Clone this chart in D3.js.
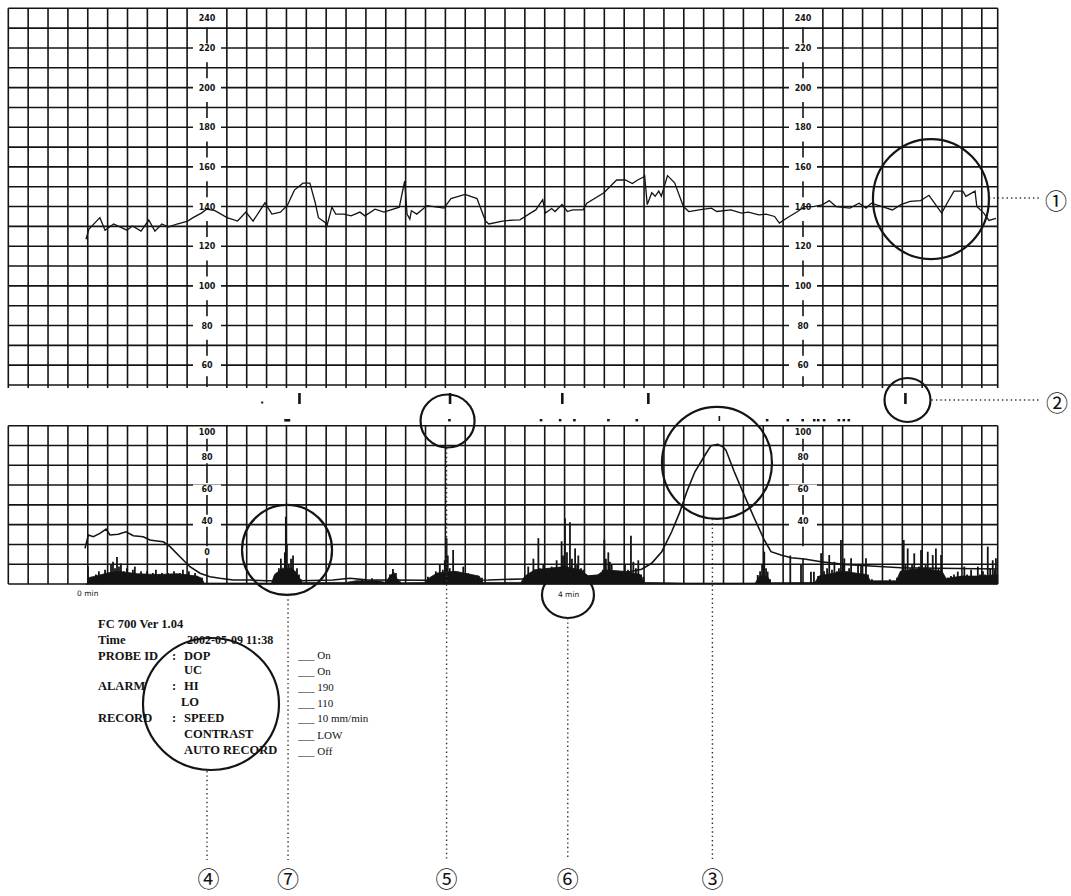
<!DOCTYPE html>
<html lang="en">
<head>
<meta charset="utf-8">
<title>CTG trace</title>
<script src="https://d3js.org/d3.v7.min.js"></script>
<style>
  body { margin: 0; background: #fff; }
  svg { display: block; }
</style>
</head>
<body>
<script>
// time in seconds from the "0 min" mark; FHR in bpm, UA in units
const fhr = [[-0.9,123.5],[0.6,128.6],[6.1,134.4],[8.7,128.1],[13,131.2],[19.7,128.1],[22.5,130.2],[26.8,127.6],
  [30.7,133.2],[33.8,127.6],[37.3,131.2],[40.7,129.7],[44.9,131.2],[50.3,132.7],[53,134.4],[57.2,136.7],[59.8,138.7],
  [64,137.9],[70.1,134.4],[75.4,132.7],[79.6,137.2],[83.2,132.7],[89.2,141.9],[92.7,136.2],[97,137.2],[100.5,140.7],
  [104,148.3],[108.3,151.8],[111.8,151.8],[114.4,142.3],[116.1,134.4],[119.6,131.9],[120.1,129.3],[122.9,139.7],
  [124.8,136.2],[129,136.2],[132.5,135.3],[137,137.2],[139.5,135.3],[144.6,138.7],[149.1,137.2],[156.8,139.7],
  [159.5,152.8],[160.7,136.2],[162.1,133.7],[162.9,137.9],[165.6,136.2],[170.7,140.5],[179.3,139.2],[182.8,144],
  [189.9,146.1],[195.9,144],[200.2,132.7],[201.9,131.2],[208.8,132.7],[214,133.2],[217.5,133.3],[222.8,136.7],
  [225.5,138.3],[229,143.5],[230.3,136.7],[233.5,139],[235.2,137.5],[238.7,141],[241.4,137.5],[244.1,138.3],
  [249.3,138.3],[251.2,141.7],[259.8,147],[266.2,153.4],[270.6,153.4],[274.1,151.6],[276.8,153.4],[279.5,154.8],
  [280.3,155.6],[281.6,141],[283.9,147],[285.6,145.2],[287.4,147.8],[288.7,145.2],[291.8,155.6],[295.4,152],
  [299.8,140],[302.5,137.5],[307.7,138.3],[313.9,139.2],[316.6,137.5],[323.7,138.3],[329,136.7],[332.5,137.2],
  [337.8,135.8],[341.4,136.2],[345.7,135],[348.1,131.7],[351.9,134.2],[357.3,137.5],[360.8,140],[365.2,140],
  [369.6,140.8],[373.2,143],[376.6,140],[383.6,139.2],[388.2,141.7],[391.7,139.2],[394.4,141.7],[399.8,140],
  [405,138.3],[409.3,141],[413.9,142.6],[419.2,143],[423.4,145.7],[426.2,141.7],[429.8,136.7],[432.5,141.7],
  [436,147.8],[440.4,147.8],[442,145.2],[446.6,147.8],[447.5,140],[451,136.7],[453.6,133],[457.1,134]];

const ua = [[-1.4,22.5],[0.3,31],[2.8,29.9],[6.1,32],[9.2,34.7],[11.2,31],[15.4,31.4],[19.2,33],[22.9,30.5],
  [27.9,29.9],[31.3,27.8],[34.7,27.2],[38,26.7],[41.4,23.6],[46.4,17.2],[51.4,10.9],[56.5,6.8],[61.5,4.6],
  [66.5,3.6],[73.2,2.5],[81.6,2.5],[90,2.1],[106.8,2.1],[123.4,2.5],[132,3.6],[140,2.6],[170,2.4],[201.5,2.5],
  [218.4,3.2],[235.2,4],[251.9,5],[268.7,6.8],[278.8,9.3],[283.8,13.1],[288.9,20.4],[293.9,33],[298.1,45.7],
  [301.5,58.3],[305.6,70.9],[310.7,81.5],[313.7,87.4],[317.1,88.3],[319.6,86.7],[321.2,84.6],[325.4,70.9],
  [330.4,56.2],[335.5,41.5],[340.5,27.8],[343.9,20.4],[348.9,18.3],[354,16.6],[360.7,15.8],[369.1,14.1],
  [380.8,12.4],[394.2,11.4],[409.3,10.3],[457.6,9.5]];

// dense low part of the movement signal
const moveFill = [[-1,0],[0,0],[0.4,4],[4,5],[10,7],[15,8],[25,6.5],[35,6],[45,6.5],[55,5],[57.5,3.5],[58.5,0.6],
  [92.5,0.6],[94,6],[98,10],[103,10],[106,5],[108,1],[130,1],[135,2],[146,2],[150,1],[152,5],[154,7.5],[156,2.5],
  [158,0.8],[170,1],[172,4],[176,7],[185,8],[191,6.5],[197,5],[199,1],[218,1],[220,5],[225,9],[240,11],[248,9],[252,5],
  [256,5],[260,9],[270,8],[278,6],[280,1],[300,0.6],[336,0.6],[338,5],[342,5],[344,0.8],[366,1],[368,5],[380,8],
  [392,6],[394,2],[407,2],[409,8],[420,10],[430,8],[432,3.5],[440,5],[450,5],[458,6]];

// movement signal spikes
const moveSpikes = [[0.1,11],[2.1,4],[4.1,6],[5.6,8],[7.1,5],[8.7,9],[10.2,6],[11.7,12],[12.7,14],[13.7,10],
  [14.7,17],[15.7,11],[16.7,13],[18.2,8],[19.7,10],[21.2,7],[22.7,9],[23.7,11],[25.3,6],[26.8,8],[28.3,6],[29.8,8],
  [31.3,5],[32.8,7],[34.3,9],[35.8,6],[37.3,7],[38.8,5],[40.4,7],[41.9,6],[43.4,8],[44.9,5],[46.4,7],[47.9,9],
  [49.4,6],[50.9,8],[52.5,5],[54,7],[55.5,4],[57.5,4],
  [93.7,4],[95.2,7],[96.2,10],[97.2,16],[98.2,9],[99.2,20],[99.7,42.5],[100.2,25],[101.2,12],[102.3,16],[103.3,18],
  [104.3,8],[105.3,10],[106.3,6],[107.3,3],
  [136,2],[138,3],[143.1,3.6],[145,2],[151.1,3],[152.1,6],[153.6,9.5],[155.1,7],[156.2,3],
  [171.2,4.6],[173.2,3],[175.2,8],[177.2,12],[178.7,9],[179.7,15],[180.6,29],[181.2,18],[182.2,10],[183.9,21.5],
  [184.8,8],[186.5,7.8],[187.8,6],[189,11],[190.4,7],[191.5,6.8],[192.9,5],[194.4,5],[196.4,5],[198.4,4],
  [220.1,3],[221.7,11],[223.1,7],[224.3,16],[225.1,9],[226.8,29],[227.6,10],[229.3,12],[230.6,8],[231.6,10],
  [233.5,11],[234.7,9],[236,15],[237.2,10],[238.5,27],[239.2,18],[240.2,41.5],[241.2,20],[242.7,39],[243.7,16],
  [245.3,22.5],[246.3,12],[246.9,18],[248.3,10],[249.4,9],[250.8,6],[252.8,4],
  [255.8,4],[257.8,5],[259.3,9],[260,28],[260.8,16],[262,20],[262.8,14],[263.7,12],[264.9,7],[267,8],[268.4,6],
  [270.4,12],[271.9,9],[273.4,30.5],[274.6,14],[275.9,10],[277.1,15],[278.5,6],[279.6,4.6],
  [337.2,5.7],[338.4,8],[339.4,12],[340.5,20.4],[341.4,10],[342.2,7.8],[343.4,3],
  [353.6,18],[359,12],[364,7.8],[365.5,7.8],
  [367.6,5],[369.1,19.4],[370.6,8],[372.1,10],[373.2,18.3],[374.6,9],[375.8,14],[377.1,8],[378.1,10],[379.1,27.8],
  [380.2,12],[380.8,16.2],[382.2,8],[383.2,10],[384.2,16.2],[385.7,7],[387.7,12],[389.2,12],[390.2,6],[391.7,16.2],
  [392.7,6],[394.7,3],[398.7,2],[403.7,3],[407.3,4],
  [409.3,8],[410.7,27.8],[411.6,12],[412.7,22.5],[413.9,10],[414.9,12],[416,19.4],[417.4,9],[418.4,11],[419.4,21.5],
  [420.9,10],[421.7,12],[422.8,20.4],[423.9,10],[425.3,18.3],[425.9,9],[426.9,22.5],[428.2,10],[429.5,18.3],
  [431,5],[433,4],[434.5,5],[436,6],[437.9,7.8],[439.5,5],[441.2,11],[442.6,6],[444.6,9],[446.1,5],[448,11],
  [449.1,6],[450.6,8],[451.6,6],[453,23.6],[454.2,10],[455.5,15],[456.4,9],[457.1,16.2]];

// event marks and printer dots between the two grids
const eventMarks = [106.5, 182.3, 238.8, 282.1, 411.5];
const rowDots = [182, 228.1, 237.7, 244.9, 262, 276.3, 341.9, 352.3, 359.8, 365.6, 367.6, 370.6, 378, 380.5, 383];

const hrTicks = [60, 80, 100, 120, 140, 160, 180, 200, 220, 240];
const uaTicks = [20, 40, 60, 80, 100];
const uaTickLabels = ["0", "40", "60", "80", "100"];
const axisTimes = [60, 360];

const W = 1071, H = 896;
const svg = d3.select("body").append("svg").attr("width", W).attr("height", H);
svg.append("rect").attr("width", W).attr("height", H).attr("fill", "#fff");

const x = d3.scaleLinear().domain([-40, 458]).range([8.3, 997.7]);
const yHr = d3.scaleLinear().domain([50, 240]).range([385, 8.3]);
const yUa = d3.scaleLinear().domain([0, 100]).range([584, 425.7]);

const gridTimes = d3.range(-40, 451, 10).filter(t => !axisTimes.includes(t));
const ink = "#141414";

function grid(hValues, yScale, ext) {
  const g = svg.append("g").attr("stroke", ink).attr("stroke-width", 1.6);
  const [y0, y1] = yScale.range();
  g.selectAll(".v").data(gridTimes.concat([458])).join("line")
    .attr("x1", d => x(d)).attr("x2", d => x(d))
    .attr("y1", y1).attr("y2", y0 + ext);
  g.selectAll(".h").data(hValues).join("line")
    .attr("x1", x(-40)).attr("x2", x(458))
    .attr("y1", d => yScale(d)).attr("y2", d => yScale(d));
}
grid(d3.range(50, 241, 10), yHr, 3);
grid(d3.range(0, 100.1, 12.5), yUa, 0);

function axisColumn(t, scale, ticks, labels, shifted, dashFn) {
  const g = svg.append("g").attr("transform", `translate(${x(t)},0)`)
    .call(d3.axisLeft(scale).tickValues(ticks).tickSize(0).tickPadding(0)
      .tickFormat((d, i) => labels[i]));
  g.select(".domain").remove();
  g.attr("text-anchor", "middle").attr("font-family", "DejaVu Sans").attr("font-size", 8).attr("font-weight", "bold");
  g.selectAll(".tick").filter(d => shifted[d] !== undefined)
    .attr("transform", d => `translate(0,${shifted[d]})`);
  g.selectAll(".tick").filter((d, i) => labels[i] !== "")
    .insert("rect", "text").attr("x", -14).attr("y", -5).attr("width", 28).attr("height", 10).attr("fill", "#fff");
  g.selectAll(".tick text").attr("x", 0).attr("fill", ink);
  const ys = ticks.map(d => shifted[d] !== undefined ? shifted[d] : scale(d)).sort((a, b) => a - b);
  g.selectAll(".dash").data(dashFn(ys, scale.range()[0])).join("line")
    .attr("x1", 0).attr("x2", 0).attr("y1", d => d[0]).attr("y2", d => d[1])
    .attr("stroke", ink).attr("stroke-width", 1.6);
}

const hrDashes = (ys, bottom) => {
  const out = [];
  for (let i = 0; i < ys.length - 1; i++) {
    const c = (ys[i] + ys[i + 1]) / 2 + 2.5;
    out.push([c - 8, c + 8]);
  }
  out.push([ys[ys.length - 1] + 11, bottom + 2]);
  return out;
};
const uaDashes = (ys, bottom) => {
  const out = [];
  for (let i = 0; i < ys.length - 1; i++) out.push([ys[i] + 6, ys[i + 1] - 6]);
  out.push([ys[ys.length - 1] + 6, bottom - 1]);
  return out;
};

axisTimes.forEach(t => {
  axisColumn(t, yHr, hrTicks, hrTicks.map(String), {240: 18}, hrDashes);
  axisColumn(t, yUa, uaTicks, t === 60 ? uaTickLabels : ["", "40", "60", "80", "100"], {100: 432.7}, uaDashes);
});

// movement signal
svg.append("path").datum(moveFill)
  .attr("d", d3.area().x(d => x(d[0])).y0(yUa(0)).y1(d => yUa(d[1])))
  .attr("fill", ink).attr("stroke", ink).attr("stroke-width", 0.8);
svg.append("g").selectAll("line").data(moveSpikes).join("line")
  .attr("x1", d => x(d[0])).attr("x2", d => x(d[0]))
  .attr("y1", yUa(0)).attr("y2", d => yUa(d[1]))
  .attr("stroke", ink).attr("stroke-width", 1.8);

// uterine activity
svg.append("path").datum(ua)
  .attr("d", d3.line().x(d => x(d[0])).y(d => yUa(d[1])))
  .attr("fill", "none").attr("stroke", ink).attr("stroke-width", 1.6);

// fetal heart rate
svg.append("path").datum(fhr)
  .attr("d", d3.line().x(d => x(d[0])).y(d => yHr(d[1])))
  .attr("fill", "none").attr("stroke", ink).attr("stroke-width", 1.3);

// marks between grids
svg.append("g").selectAll("rect").data(eventMarks).join("rect")
  .attr("x", d => x(d) - 1.2).attr("y", 393).attr("width", 2.6).attr("height", 11).attr("fill", ink);
svg.append("g").selectAll("rect").data(rowDots).join("rect")
  .attr("x", d => x(d) - 1.2).attr("y", 419).attr("width", 2.6).attr("height", 2.4).attr("fill", ink);
svg.append("rect").attr("x", x(100.4) - 3).attr("y", 419).attr("width", 6).attr("height", 2.6).attr("fill", ink);
svg.append("rect").attr("x", x(87.8) - 1).attr("y", 401.5).attr("width", 2).attr("height", 2).attr("fill", ink);
svg.append("rect").attr("x", x(317.9) - 0.8).attr("y", 416).attr("width", 1.6).attr("height", 5).attr("fill", ink);

// time labels
svg.append("text").attr("x", x(0)).attr("y", 596).attr("text-anchor", "middle")
  .attr("font-family", "DejaVu Sans").attr("font-size", 7.5).attr("fill", ink).text("0 min");
svg.append("text").attr("x", x(240) + 4).attr("y", 597).attr("text-anchor", "middle")
  .attr("font-family", "DejaVu Sans").attr("font-size", 7.5).attr("fill", ink).text("4 min");

// settings printout
const info = svg.append("g").attr("font-family", "Liberation Serif").attr("fill", ink);
const leftRows = [
  ["FC 700 Ver 1.04", 98, 628], ["Time", 98, 644], ["PROBE ID", 98, 660], ["ALARM", 98, 690], ["RECORD", 98, 722],
  [":", 172, 660], ["DOP", 184, 660], ["UC", 184, 674], [":", 172, 690], ["HI", 184, 690], ["LO", 181, 706],
  [":", 172, 722], ["SPEED", 184, 722], ["CONTRAST", 184, 738], ["AUTO RECORD", 184, 754]
];
info.selectAll(".l").data(leftRows).join("text")
  .attr("x", d => d[1]).attr("y", d => d[2]).attr("font-size", 12.5).attr("font-weight", "bold").text(d => d[0]);
info.append("text").attr("x", 187).attr("y", 644).attr("font-size", 12).attr("font-weight", "bold")
  .text("2002-05-09 11:38");
const rightRows = [["___ On", 659], ["___ On", 675], ["___ 190", 691], ["___ 110", 707],
  ["___ 10 mm/min", 722], ["___ LOW", 739], ["___ Off", 755]];
info.selectAll(".r").data(rightRows).join("text")
  .attr("x", 298).attr("y", d => d[1]).attr("font-size", 11).text(d => d[0]);

// annotation circles, leaders and numbers
const circ = svg.append("g").attr("fill", "none").attr("stroke", ink).attr("stroke-width", 2.2);
const rings = [
  {cx: x(424.4), cy: yHr(143.8), rx: 58, ry: 60},
  {cx: x(412.6), cy: 400, rx: 23, ry: 22},
  {cx: x(316.7), cy: yUa(76.5), rx: 55, ry: 56},
  {cx: 211, cy: 704, rx: 68, ry: 66},
  {cx: x(181.1), cy: 421, rx: 27, ry: 26.5},
  {cx: x(241.7), cy: 595, rx: 26, ry: 23},
  {cx: x(100.3), cy: yUa(21.5), rx: 45, ry: 45}
];
circ.selectAll("ellipse").data(rings).join("ellipse")
  .attr("cx", d => d.cx).attr("cy", d => d.cy).attr("rx", d => d.rx).attr("ry", d => d.ry);

const lead = svg.append("g").attr("stroke", "#333").attr("stroke-width", 1.4).attr("stroke-dasharray", "1.4 3");
const hLeaders = [[rings[0].cx + 58, yHr(143.8) - 1, 1040], [rings[1].cx + 24, 400, 1040]];
lead.selectAll(".h").data(hLeaders).join("line")
  .attr("x1", d => d[0]).attr("x2", d => d[2]).attr("y1", d => d[1]).attr("y2", d => d[1]);
const vLeaders = [[x(314.4), yUa(76.5) + 56], [207, 771], [x(180.6), 448], [x(241.6), 618], [x(100.8), yUa(21.5) + 45]];
lead.selectAll(".v").data(vLeaders).join("line")
  .attr("x1", d => d[0]).attr("x2", d => d[0]).attr("y1", d => d[1]).attr("y2", 860);

const nums = [["①", 1056, 199], ["②", 1057, 401], ["③", x(314.4), 877], ["④", 208.5, 877],
  ["⑤", x(180.6), 877], ["⑥", x(241.6), 877], ["⑦", x(100.8), 877]];
svg.append("g").selectAll("text").data(nums).join("text")
  .attr("x", d => d[1]).attr("y", d => d[2]).attr("text-anchor", "middle").attr("dominant-baseline", "central")
  .attr("font-family", "Noto Sans CJK JP").attr("font-size", 22).attr("fill", ink).text(d => d[0]);
</script>
</body>
</html>
